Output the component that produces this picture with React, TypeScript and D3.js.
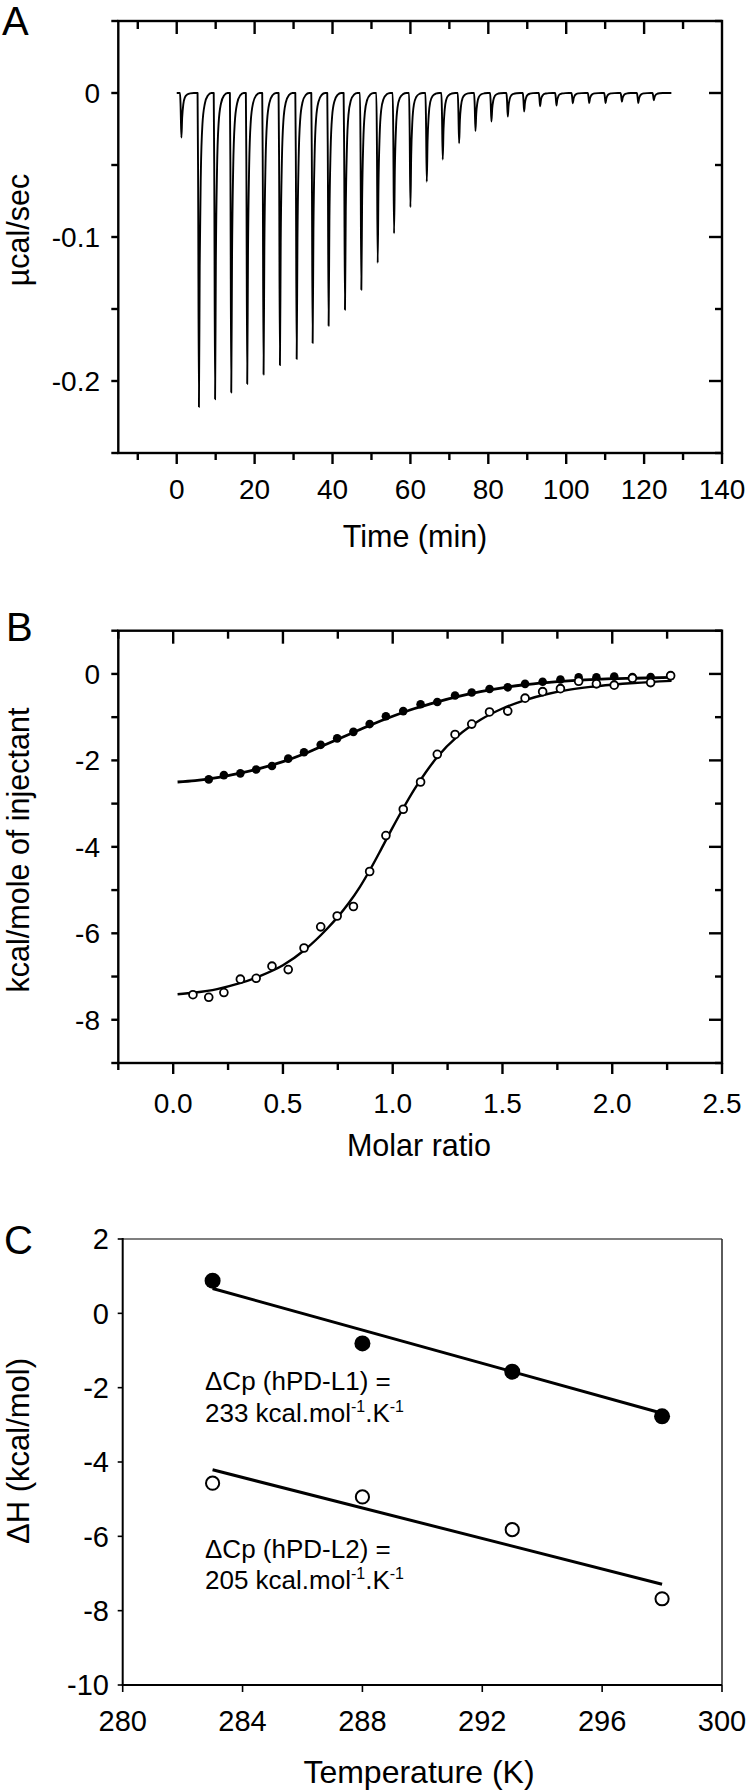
import React from 'react';
import * as d3 from 'd3';

const FONT = '"Liberation Sans", Arial, Helvetica, sans-serif';

// ---------------- Panel A: raw ITC thermogram ----------------
const injectionTimes = [1.2, 5.7, 9.85, 14.0, 18.1, 22.3, 26.5, 30.8, 34.9, 39.0, 43.2, 47.4, 51.6, 55.8, 60.0, 64.2, 68.3, 72.5, 76.7, 80.8, 85.0, 89.2, 93.3, 97.5, 101.7, 105.9, 110.1, 114.3, 118.5, 122.5];
const injectionDepths = [-0.031, -0.218, -0.2127, -0.208, -0.202, -0.1955, -0.189, -0.1847, -0.1736, -0.1617, -0.1506, -0.1366, -0.118, -0.0975, -0.0793, -0.0616, -0.0462, -0.0349, -0.0264, -0.0198, -0.0164, -0.0129, -0.0092, -0.0087, -0.0071, -0.007, -0.007, -0.006, -0.007, -0.005];
// shape of one injection peak (minutes relative to the minimum, fraction of depth)
const peakShapeTime = [-0.35, -0.2, 0, 0.2, 0.5, 0.9, 1.5, 2.3, 3.2];
const peakShapeFrac = [0, 0.3, 1, 0.55, 0.25, 0.1, 0.035, 0.008, 0];
const traceStartMin = 0;
const traceEndMin = 127;
const timeTicks = [-10, 0, 10, 20, 30, 40, 50, 60, 70, 80, 90, 100, 110, 120, 130, 140];
const timeLabels = [0, 20, 40, 60, 80, 100, 120, 140];
const powerTicks = [0.05, 0, -0.05, -0.1, -0.15, -0.2, -0.25];
const powerLabels = [0, -0.1, -0.2];

// ---------------- Panel B: integrated heats ----------------
const ratioL2 = [0.09, 0.162, 0.231, 0.306, 0.378, 0.45, 0.524, 0.596, 0.672, 0.747, 0.821, 0.895, 0.969, 1.048, 1.127, 1.203, 1.284, 1.36, 1.441, 1.524, 1.603, 1.683, 1.764, 1.847, 1.928, 2.009, 2.092, 2.175, 2.266];
const heatL2 = [-7.42, -7.48, -7.37, -7.06, -7.04, -6.76, -6.84, -6.34, -5.85, -5.6, -5.38, -4.57, -3.74, -3.13, -2.5, -1.86, -1.4, -1.16, -0.88, -0.86, -0.56, -0.41, -0.34, -0.17, -0.23, -0.26, -0.1, -0.2, -0.04];
const ratioL1 = [0.162, 0.231, 0.306, 0.378, 0.45, 0.524, 0.596, 0.672, 0.747, 0.821, 0.895, 0.969, 1.048, 1.127, 1.203, 1.284, 1.36, 1.441, 1.524, 1.603, 1.683, 1.764, 1.847, 1.928, 2.009, 2.092, 2.175, 2.266];
const heatL1 = [-2.44, -2.34, -2.3, -2.21, -2.13, -1.96, -1.81, -1.64, -1.49, -1.34, -1.16, -0.98, -0.86, -0.7, -0.65, -0.5, -0.43, -0.35, -0.31, -0.23, -0.18, -0.13, -0.08, -0.08, -0.06, -0.07, -0.07, -0.05];
const fitL1Ratio = [0.02, 0.1, 0.2, 0.3, 0.4, 0.5, 0.6, 0.7, 0.8, 0.9, 1.0, 1.1, 1.2, 1.3, 1.4, 1.5, 1.6, 1.7, 1.8, 1.9, 2.0, 2.1, 2.27];
const fitL1Heat = [-2.5, -2.47, -2.4, -2.3, -2.18, -2.03, -1.84, -1.62, -1.4, -1.18, -0.98, -0.8, -0.65, -0.52, -0.41, -0.32, -0.25, -0.2, -0.16, -0.13, -0.11, -0.1, -0.08];
const fitL2Ratio = [0.02, 0.1, 0.2, 0.3, 0.4, 0.5, 0.6, 0.7, 0.75, 0.8, 0.85, 0.9, 0.95, 1.0, 1.05, 1.1, 1.15, 1.2, 1.3, 1.4, 1.5, 1.6, 1.7, 1.8, 1.9, 2.0, 2.1, 2.27];
const fitL2Heat = [-7.41, -7.37, -7.29, -7.16, -6.98, -6.74, -6.38, -5.9, -5.62, -5.3, -4.93, -4.5, -4.03, -3.55, -3.09, -2.66, -2.28, -1.94, -1.42, -1.06, -0.8, -0.61, -0.47, -0.37, -0.3, -0.25, -0.21, -0.16];
const ratioTicks = [-0.25, 0, 0.25, 0.5, 0.75, 1.0, 1.25, 1.5, 1.75, 2.0, 2.25, 2.5];
const ratioLabels = ['0.0', '0.5', '1.0', '1.5', '2.0', '2.5'];
const heatTicks = [1, 0, -1, -2, -3, -4, -5, -6, -7, -8, -9];
const heatLabels = [0, -2, -4, -6, -8];

// ---------------- Panel C: enthalpy vs temperature ----------------
const temperatureK = [283, 288, 293, 298];
const dHL1 = [0.88, -0.81, -1.57, -2.77];
const dHL2 = [-4.57, -4.94, -5.82, -7.68];
const lineTemps = [283, 298];
const lineL1 = [0.67, -2.69];
const lineL2 = [-4.21, -7.29];
const tempTicks = [280, 284, 288, 292, 296, 300];
const dHTicks = [2, 0, -2, -4, -6, -8, -10];

// scales
const xA = d3.scaleLinear().domain([-15, 140]).range([118.3, 722]);
const yA = d3.scaleLinear().domain([-0.25, 0.05]).range([453, 21]);
const xB = d3.scaleLinear().domain([-0.25, 2.5]).range([118.3, 722]);
const yB = d3.scaleLinear().domain([-9, 1]).range([1063, 630.7]);
const xC = d3.scaleLinear().domain([280, 300]).range([122.7, 722]);
const yC = d3.scaleLinear().domain([-10, 2]).range([1685, 1239]);

const AX = 2.4;

function near(a: number, list: number[]) {
  return list.some((v) => Math.abs(v - a) < 1e-6);
}

function Frame(props: {
  xs: d3.ScaleLinear<number, number>;
  ys: d3.ScaleLinear<number, number>;
  xTicks: number[];
  xMajor: number[];
  yTicks: number[];
  yMajor: number[];
}) {
  const { xs, ys, xTicks, xMajor, yTicks, yMajor } = props;
  const [L, R] = xs.range();
  const [B, T] = ys.range();
  const els: React.ReactNode[] = [];
  xTicks.forEach((v, i) => {
    const x = xs(v);
    const maj = near(v, xMajor);
    if (x < R - 1) {
      els.push(<line key={'xt' + i} x1={x} x2={x} y1={T} y2={T + (maj ? 13 : 8)} />);
    }
    els.push(<line key={'xb' + i} x1={x} x2={x} y1={B} y2={B + (maj ? 11 : 7)} />);
  });
  yTicks.forEach((v, i) => {
    const y = ys(v);
    const maj = near(v, yMajor);
    els.push(<line key={'yl' + i} x1={L} x2={L - 7} y1={y} y2={y} />);
    els.push(<line key={'yr' + i} x1={R} x2={R - (maj ? 13 : 7)} y1={y} y2={y} />);
  });
  return (
    <g stroke="#000" strokeWidth={AX} fill="none">
      <rect x={L} y={T} width={R - L} height={B - T} />
      {els}
    </g>
  );
}

export default function App() {
  // trace for panel A
  const tracePts: [number, number][] = [[traceStartMin, 0]];
  injectionTimes.forEach((t, i) => {
    peakShapeTime.forEach((dt, k) => {
      tracePts.push([t + dt, injectionDepths[i] * peakShapeFrac[k]]);
    });
  });
  tracePts.push([traceEndMin, 0]);
  const traceLine = d3
    .line<[number, number]>()
    .x((d) => xA(d[0]))
    .y((d) => yA(d[1]))
    .curve(d3.curveMonotoneX);

  const fitL1Path = d3
    .line<number>()
    .x((d, i) => xB(fitL1Ratio[i]))
    .y((d) => yB(d))
    .curve(d3.curveMonotoneX)(fitL1Heat);
  const fitL2Path = d3
    .line<number>()
    .x((d, i) => xB(fitL2Ratio[i]))
    .y((d) => yB(d))
    .curve(d3.curveMonotoneX)(fitL2Heat);

  const lineC = (vals: number[]) =>
    d3
      .line<number>()
      .x((d, i) => xC(lineTemps[i]))
      .y((d) => yC(d))(vals);

  const tickFont = 28;
  const titleFont = 30.5;

  return (
    <svg
      width={750}
      height={1791}
      viewBox="0 0 750 1791"
      style={{ position: 'absolute', left: 0, top: 0, background: '#fff' }}
      fontFamily={FONT}
    >
      <rect x={0} y={0} width={750} height={1791} fill="#fff" />

      {/* ================= Panel A ================= */}
      <text x={2} y={35} fontSize={40}>A</text>
      <path d={traceLine(tracePts) || ''} fill="none" stroke="#000" strokeWidth={1.9} strokeLinejoin="round" />
      <Frame xs={xA} ys={yA} xTicks={timeTicks} xMajor={timeLabels} yTicks={powerTicks} yMajor={powerLabels} />
      {timeLabels.map((v) => (
        <text key={'ta' + v} x={xA(v)} y={499} fontSize={tickFont} textAnchor="middle">
          {v}
        </text>
      ))}
      {powerLabels.map((v) => (
        <text key={'pa' + v} x={100} y={yA(v)} dy="0.36em" fontSize={tickFont} textAnchor="end">
          {v === 0 ? '0' : String(v)}
        </text>
      ))}
      <text x={415} y={547} fontSize={titleFont} textAnchor="middle">Time (min)</text>
      <text transform={`translate(29,${230}) rotate(-90)`} fontSize={titleFont} textAnchor="middle">µcal/sec</text>

      {/* ================= Panel B ================= */}
      <text x={6} y={641} fontSize={40}>B</text>
      <path d={fitL1Path || ''} fill="none" stroke="#000" strokeWidth={2.8} />
      <path d={fitL2Path || ''} fill="none" stroke="#000" strokeWidth={2.4} />
      {ratioL1.map((r, i) => (
        <circle key={'f' + i} cx={xB(r)} cy={yB(heatL1[i])} r={4.3} fill="#000" />
      ))}
      {ratioL2.map((r, i) => (
        <circle key={'o' + i} cx={xB(r)} cy={yB(heatL2[i])} r={3.9} fill="#fff" stroke="#000" strokeWidth={1.8} />
      ))}
      <Frame xs={xB} ys={yB} xTicks={ratioTicks} xMajor={[0, 0.5, 1, 1.5, 2, 2.5]} yTicks={heatTicks} yMajor={heatLabels} />
      {ratioLabels.map((s) => (
        <text key={'rb' + s} x={xB(+s)} y={1113} fontSize={tickFont} textAnchor="middle">
          {s}
        </text>
      ))}
      {heatLabels.map((v) => (
        <text key={'hb' + v} x={100} y={yB(v)} dy="0.36em" fontSize={tickFont} textAnchor="end">
          {String(v)}
        </text>
      ))}
      <text x={419} y={1156} fontSize={titleFont} textAnchor="middle">Molar ratio</text>
      <text transform={`translate(29,${850}) rotate(-90)`} fontSize={titleFont} textAnchor="middle">kcal/mole of injectant</text>

      {/* ================= Panel C ================= */}
      <text x={4} y={1254} fontSize={40}>C</text>
      <g fill="none">
        <line x1={xC(280)} x2={xC(300)} y1={yC(2)} y2={yC(2)} stroke="#555" strokeWidth={1.4} />
        <line x1={xC(300)} x2={xC(300)} y1={yC(2)} y2={yC(-10)} stroke="#333" strokeWidth={1.6} />
        <line x1={xC(280)} x2={xC(280)} y1={yC(2) - 1} y2={yC(-10)} stroke="#000" strokeWidth={2} />
        <line x1={xC(280) - 1} x2={xC(300)} y1={yC(-10)} y2={yC(-10)} stroke="#000" strokeWidth={2} />
        {dHTicks.map((v) => (
          <line key={'cy' + v} x1={xC(280)} x2={xC(280) - 5} y1={yC(v)} y2={yC(v)} stroke="#000" strokeWidth={1.6} />
        ))}
        {tempTicks.map((v) => (
          <line key={'cx' + v} x1={xC(v)} x2={xC(v)} y1={yC(-10)} y2={yC(-10) + 7} stroke="#000" strokeWidth={1.6} />
        ))}
      </g>
      <path d={lineC(lineL1) || ''} stroke="#000" strokeWidth={3} fill="none" />
      <path d={lineC(lineL2) || ''} stroke="#000" strokeWidth={3} fill="none" />
      {temperatureK.map((t, i) => (
        <circle key={'c1' + i} cx={xC(t)} cy={yC(dHL1[i])} r={8} fill="#000" />
      ))}
      {temperatureK.map((t, i) => (
        <circle key={'c2' + i} cx={xC(t)} cy={yC(dHL2[i])} r={6.6} fill="#fff" stroke="#000" strokeWidth={2} />
      ))}
      {tempTicks.map((v) => (
        <text key={'tc' + v} x={xC(v)} y={1731} fontSize={29} textAnchor="middle">
          {v}
        </text>
      ))}
      {dHTicks.map((v) => (
        <text key={'dc' + v} x={109} y={yC(v)} dy="0.36em" fontSize={29} textAnchor="end">
          {String(v)}
        </text>
      ))}
      <text x={419} y={1783} fontSize={32} textAnchor="middle">Temperature (K)</text>
      <text transform={`translate(29,${1451}) rotate(-90)`} fontSize={31} textAnchor="middle">ΔH (kcal/mol)</text>

      <text x={205} y={1390} fontSize={26}>ΔCp (hPD-L1) =</text>
      <text x={205} y={1421.7} fontSize={26}>
        233 kcal.mol<tspan fontSize={16} dy={-10}>-1</tspan>
        <tspan dy={10}>.K</tspan>
        <tspan fontSize={16} dy={-10}>-1</tspan>
      </text>
      <text x={205} y={1558} fontSize={26}>ΔCp (hPD-L2) =</text>
      <text x={205} y={1589} fontSize={26}>
        205 kcal.mol<tspan fontSize={16} dy={-10}>-1</tspan>
        <tspan dy={10}>.K</tspan>
        <tspan fontSize={16} dy={-10}>-1</tspan>
      </text>
    </svg>
  );
}
